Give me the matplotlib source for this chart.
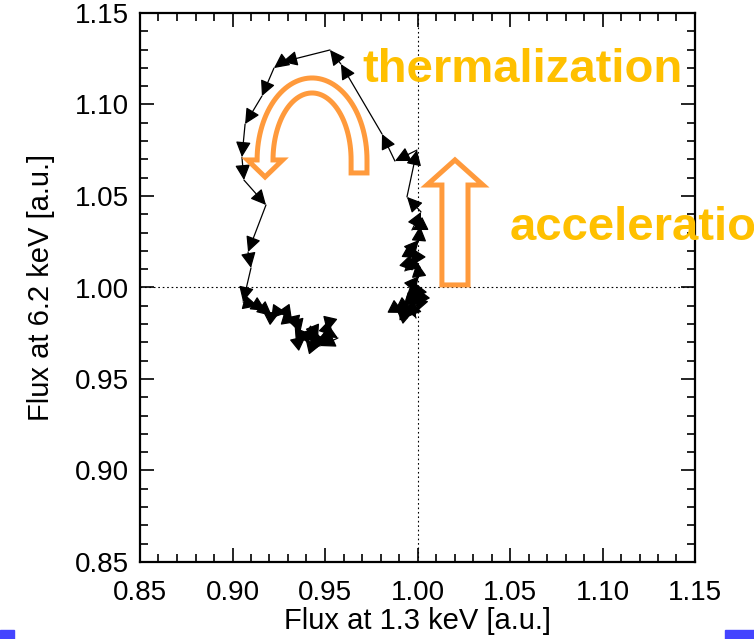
import matplotlib
matplotlib.use("Agg")
import matplotlib.pyplot as plt
from matplotlib.patches import Polygon, Rectangle
from matplotlib.ticker import MultipleLocator, FormatStrFormatter
import numpy as np

plt.rcParams['font.family'] = ['Liberation Sans', 'DejaVu Sans']

# Normalised light-curve trajectory: soft (1.3 keV) vs hard (6.2 keV) flux
flux_1p3kev = [0.9943, 0.9884, 0.9927, 0.9905, 0.9970, 0.9992, 0.9959, 1.0014,
               0.9976, 1.0024, 0.9997, 0.9981, 1.0008, 0.9997, 0.9932, 0.9965,
               1.0003, 0.9970, 1.0008, 1.0014, 0.9970, 1.0019, 0.9943, 0.9997,
               0.9878, 0.9808, 0.9586, 0.9527, 0.9268, 0.9224, 0.9159, 0.9068,
               0.9051, 0.9062, 0.9181, 0.9084, 0.9100, 0.9057,
               0.9138, 0.9181, 0.9214, 0.9257, 0.9295, 0.9322, 0.9278, 0.9349,
               0.9365, 0.9343, 0.9397, 0.9435, 0.9462, 0.9414, 0.9484, 0.9527,
               0.9511, 0.9570, 0.9473, 0.9430, 0.9381, 0.9500, 0.9543]
flux_6p2kev = [0.9833, 0.9883, 0.9861, 0.9910, 0.9877, 0.9833, 0.9932, 0.9915,
               0.9959, 0.9943, 0.9997, 1.0030, 1.0063, 1.0139, 1.0090, 1.0183,
               1.0161, 1.0216, 1.0260, 1.0336, 1.0314, 1.0413, 1.0495, 1.0751,
               1.0691, 1.0839, 1.1221, 1.1298, 1.1232, 1.1199, 1.1046, 1.0893,
               1.0713, 1.0587, 1.0451, 1.0194, 1.0107, 0.9921,
               0.9899, 0.9872, 0.9844, 0.9866, 0.9861, 0.9822, 0.9833, 0.9811,
               0.9746, 0.9691, 0.9735, 0.9779, 0.9713, 0.9675, 0.9691, 0.9828,
               0.9757, 0.9724, 0.9680, 0.9751, 0.9713, 0.9724, 0.9686]

major_ticks = [0.85, 0.90, 0.95, 1.00, 1.05, 1.10, 1.15]

W, H = 754, 639
fig = plt.figure(figsize=(W / 100, H / 100), dpi=100)
ax = fig.add_axes([140 / W, 77 / H, 555 / W, 549 / H])
ax.set_xlim(0.85, 1.15)
ax.set_ylim(0.85, 1.15)
ax.set_xticks(major_ticks)
ax.set_yticks(major_ticks)
ax.xaxis.set_major_formatter(FormatStrFormatter('%.2f'))
ax.yaxis.set_major_formatter(FormatStrFormatter('%.2f'))
ax.xaxis.set_minor_locator(MultipleLocator(0.01))
ax.yaxis.set_minor_locator(MultipleLocator(0.01))
ax.tick_params(which='both', direction='in', top=True, right=True,
               width=1.2, labelsize=20)
ax.tick_params(which='major', length=10)
ax.tick_params(which='minor', length=5.5)
ax.tick_params(axis='x', pad=13)
ax.tick_params(axis='y', pad=8)
for s in ax.spines.values():
    s.set_linewidth(1.6)

ax.set_xlabel('Flux at 1.3 keV [a.u.]', fontsize=21, labelpad=1)
ax.set_ylabel('Flux at 6.2 keV [a.u.]', fontsize=21, labelpad=14)

# reference lines at unit flux
ax.axvline(1.0, color='k', lw=0.8, linestyle=(0, (1.5, 2.5)))
ax.axhline(1.0, color='k', lw=0.8, linestyle=(0, (1.5, 2.5)))

# trajectory with an arrowhead at every sample
for i in range(1, len(flux_1p3kev)):
    ax.annotate('', xy=(flux_1p3kev[i], flux_6p2kev[i]),
                xytext=(flux_1p3kev[i - 1], flux_6p2kev[i - 1]),
                arrowprops=dict(arrowstyle='-|>,head_length=0.85,head_width=0.42',
                                color='k', lw=0.9, mutation_scale=11,
                                shrinkA=0, shrinkB=0))

orange = '#FF9A3C'

# curved "thermalization" arrow (horseshoe)
cx, cy = 0.9430, 1.0697
ao, bo = 0.0297, 0.0448
ai, bi = 0.0211, 0.0366
leg_bottom = 1.0626
head_half, head_depth = 0.0095, 0.0093
t = np.linspace(0, np.pi, 60)
outer = np.column_stack([cx + ao * np.cos(t), cy + bo * np.sin(t)])
inner = np.column_stack([cx + ai * np.cos(t[::-1]), cy + bi * np.sin(t[::-1])])
mid = cx - (ao + ai) / 2
head = np.array([[mid - head_half, cy], [mid, cy - head_depth], [mid + head_half, cy]])
verts = np.vstack([[[cx + ao, leg_bottom]], outer, head, inner, [[cx + ai, leg_bottom]]])
ax.add_patch(Polygon(verts, closed=True, fill=False, edgecolor=orange, lw=3.6,
                     joinstyle='miter', zorder=5))

# straight "acceleration" arrow
sx0, sx1, sy0, hb = 1.0132, 1.0273, 1.0014, 1.0560
hx0, hx1, apex = 1.0051, 1.0354, 1.0697
up = np.array([[sx0, sy0], [sx1, sy0], [sx1, hb], [hx1, hb],
               [(sx0 + sx1) / 2, apex], [hx0, hb], [sx0, hb]])
ax.add_patch(Polygon(up, closed=True, fill=False, edgecolor=orange, lw=3.6,
                     joinstyle='miter', zorder=5))

gold = '#FFC000'
fig.text(362 / W, 1 - 82 / H, 'thermalization', color=gold, fontsize=34,
         fontweight='bold', va='baseline', ha='left', zorder=10)
fig.text(510 / W, 1 - 240 / H, 'acceleration', color=gold, fontsize=34,
         fontweight='bold', va='baseline', ha='left', zorder=10)

# slide-frame marks at the bottom corners
fig.patches.append(Rectangle((0, 0), 14 / W, 9 / H, transform=fig.transFigure,
                             color='#4444FF', zorder=0))
fig.patches.append(Rectangle((725 / W, 0), 29 / W, 9 / H, transform=fig.transFigure,
                             color='#4444FF', zorder=0))

fig.savefig('out.png', dpi=100)
